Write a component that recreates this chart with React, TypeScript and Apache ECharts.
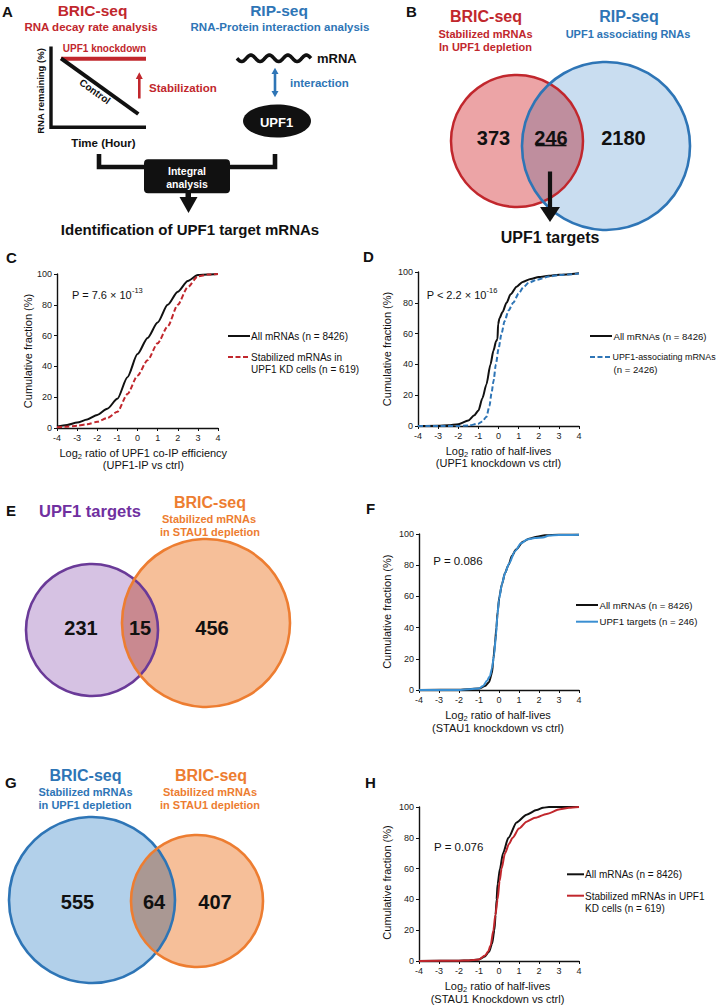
import React, { useEffect, useRef } from "react";
import * as echarts from "echarts";

const FONT = "'Liberation Sans', Arial, Helvetica, sans-serif";

// ---------------- axis ranges (all CDF panels) ----------------
const X_MIN = -4;
const X_MAX = 4;
const X_STEP = 1;
const Y_MIN = 0;
const Y_MAX = 100;
const Y_STEP = 20;

// ---------------- Panel C : UPF1 co-IP efficiency ----------------
const cAllX = [-4, -3.5, -3, -2.5, -2, -1.5, -1, -0.5, 0, 0.5, 1, 1.5, 2, 2.5, 3, 3.5, 4];
const cAllY = [1, 2, 3.5, 5.5, 8.5, 12.5, 19, 33, 48, 58.5, 68.5, 80, 88.5, 95.5, 99.3, 99.7, 100];
const cStabX = [-4, -3.5, -3, -2.5, -2, -1.5, -1, -0.5, 0, 0.5, 1, 1.5, 2, 2.5, 3, 3.5, 4];
const cStabY = [0.5, 0.8, 1.5, 2.5, 4, 6.5, 10.5, 22, 34, 44, 55, 66, 80, 91.5, 98.5, 99.6, 100];

// ---------------- Panel D : half-lives UPF1 KD ----------------
const dAllX = [-4, -3, -2.5, -2, -1.5, -1.2, -1, -0.8, -0.6, -0.4, -0.25, -0.12, -0.05, -0.02, 0.05, 0.2, 0.4, 0.6, 0.9, 1.2, 1.6, 2, 2.5, 3, 4];
const dAllY = [0, 0.2, 0.5, 1.2, 3.5, 7, 10, 18, 27, 40, 49, 55, 56.5, 66, 70, 74, 80, 85.5, 90.5, 93.5, 95.5, 96.8, 97.5, 98.2, 99.2];
const dAssocX = [-4, -2, -1.5, -1, -0.8, -0.6, -0.45, -0.35, -0.25, -0.13, 0, 0.15, 0.3, 0.5, 0.73, 1, 1.23, 1.5, 1.9, 2.5, 3, 4];
const dAssocY = [0, 0, 0.3, 1.5, 3, 6, 13, 21, 29, 40, 50, 60, 68, 75, 80, 86, 90, 93, 95, 97, 98, 99];

// ---------------- Panel F : half-lives STAU1 KD (UPF1 targets) ----------------
const fAllX = [-4, -2, -1.5, -1, -0.7, -0.5, -0.35, -0.28, -0.2, -0.13, -0.07, 0.02, 0.15, 0.3, 0.47, 0.65, 0.85, 1.2, 1.5, 1.9, 2.3, 3, 4];
const fAllY = [0, 0.2, 0.5, 1, 2.5, 5, 11, 20, 30, 40, 50, 60, 68, 75, 80, 86, 90, 95, 97, 98.2, 99.2, 99.5, 99.5];
const fTargX = [-4, -2, -1, -0.8, -0.6, -0.45, -0.35, -0.25, -0.15, -0.08, 0, 0.15, 0.3, 0.5, 0.8, 1.1, 1.4, 1.8, 2.2, 2.5, 3, 4];
const fTargY = [0, 0, 1, 2.5, 6, 9, 14, 22, 35, 48, 58, 68, 75, 81, 89, 94, 96.5, 97.5, 97.8, 99, 99.3, 99.5];

// ---------------- Panel H : half-lives STAU1 KD (stabilized in UPF1 KD) ----------------
const hAllX = [-4, -2, -1.5, -1, -0.7, -0.5, -0.35, -0.23, -0.17, -0.12, -0.07, 0.05, 0.2, 0.47, 0.88, 1.38, 1.88, 2.2, 2.5, 4];
const hAllY = [0, 0.2, 0.4, 1, 3, 6, 11, 20, 30, 40, 50, 60, 70, 80, 90, 95, 98, 99.5, 100, 100];
const hStabX = [-4, -2, -1.5, -1, -0.7, -0.55, -0.42, -0.28, -0.18, -0.07, 0.03, 0.13, 0.3, 0.5, 0.68, 1, 1.38, 1.8, 2.38, 3.05, 3.5, 4];
const hStabY = [0, 0.2, 0.4, 1, 3.5, 6, 10, 20, 30, 40, 52, 60, 70, 76, 80, 86, 90.5, 93, 95.5, 98.5, 99.5, 100];

// ---------------- Venn counts [left only, overlap, right only] ----------------
const vennB = [373, 246, 2180];
const vennE = [231, 15, 456];
const vennG = [555, 64, 407];

// ---------------- P values ----------------
const pC = { mant: "P = 7.6 × 10", exp: "-13" };
const pD = { mant: "P < 2.2 × 10", exp: "-16" };
const pF = "P = 0.086";
const pH = "P = 0.076";

// ---------------- legend labels ----------------
const legC = ["All mRNAs (n = 8426)", "Stabilized mRNAs in", "UPF1 KD cells (n = 619)"];
const legD = ["All mRNAs (n = 8426)", "UPF1-associating mRNAs", "(n = 2426)"];
const legF = ["All mRNAs (n = 8426)", "UPF1 targets (n = 246)"];
const legH = ["All mRNAs (n = 8426)", "Stabilized mRNAs in UPF1", "KD cells (n = 619)"];

// ---------------- colours ----------------
const RED = "#c1272d";
const BLUE = "#2e75b6";
const LBLUE = "#3a8fd2";
const PURPLE = "#7030a0";
const ORANGE = "#ed7d31";

const pairs = (xs: number[], ys: number[]) => xs.map((x, i) => [x, ys[i]]);

// ---------------- Venn lens shapes ----------------
function lensPath(c1x: number, c1y: number, r1: number, c2x: number, c2y: number, r2: number) {
  const dx = c2x - c1x;
  const dy = c2y - c1y;
  const d = Math.hypot(dx, dy);
  const a = (r1 * r1 - r2 * r2 + d * d) / (2 * d);
  const h = Math.sqrt(r1 * r1 - a * a);
  const ux = dx / d;
  const uy = dy / d;
  const mx = c1x + a * ux;
  const my = c1y + a * uy;
  const tx = mx + h * uy;
  const ty = my - h * ux;
  const bx = mx - h * uy;
  const by = my + h * ux;
  const l1 = a < 0 ? 1 : 0;
  const l2 = d - a < 0 ? 1 : 0;
  return `M${tx} ${ty} A${r1} ${r1} 0 ${l1} 1 ${bx} ${by} A${r2} ${r2} 0 ${l2} 1 ${tx} ${ty} Z`;
}

const VB = { c1: [517, 141, 66], c2: [606, 146, 84] };
const VE = { c1: [92, 630, 66], c2: [206, 623, 84] };
const VG = { c1: [92, 900, 83], c2: [197, 901, 66] };

let lensRegistered = false;
function registerLenses() {
  if (lensRegistered) return;
  lensRegistered = true;
  const reg = (name: string, v: any) =>
    echarts.graphic.registerShape(
      name,
      (echarts.graphic as any).extendPath(lensPath(v.c1[0], v.c1[1], v.c1[2], v.c2[0], v.c2[1], v.c2[2]), {})
    );
  reg("lensB", VB);
  reg("lensE", VE);
  reg("lensG", VG);
}

// ---------------- graphic helpers ----------------
function T(x: number, y: number, text: string, size: number, o: any = {}) {
  const align = o.align || "center";
  return {
    type: "text",
    x,
    y,
    rotation: o.rot || 0,
    silent: true,
    style: {
      text,
      fill: o.color || "#111",
      fontSize: size,
      fontWeight: o.weight || "normal",
      fontFamily: FONT,
      align,
      verticalAlign: "middle",
      textAlign: align,
      textVerticalAlign: "middle",
      rich: o.rich,
    },
  };
}
const B = (x: number, y: number, text: string, size: number, color = "#111", align = "center") =>
  T(x, y, text, size, { weight: "bold", color, align });

function L(x1: number, y1: number, x2: number, y2: number, color: string, width: number, dash?: number[]) {
  return {
    type: "line",
    silent: true,
    shape: { x1, y1, x2, y2 },
    style: { stroke: color, lineWidth: width, lineDash: dash || null, lineCap: "butt" },
  };
}
function PL(points: number[][], color: string, width: number) {
  return {
    type: "polyline",
    silent: true,
    shape: { points },
    style: { stroke: color, lineWidth: width, fill: null, lineJoin: "miter", lineCap: "butt" },
  };
}
function PG(points: number[][], fill: string) {
  return { type: "polygon", silent: true, shape: { points }, style: { fill } };
}
function C(v: number[], fill: string | null, stroke: string | null, lw = 0) {
  return {
    type: "circle",
    silent: true,
    shape: { cx: v[0], cy: v[1], r: v[2] },
    style: { fill: fill || "none", stroke: stroke || "none", lineWidth: lw },
  };
}
function xName(x: number, y: number, rest: string) {
  return T(x, y, `{m|Log}{s|2}{m|${rest}}`, 11, {
    rich: {
      m: { fontSize: 11, fontFamily: FONT, fill: "#111", lineHeight: 13, verticalAlign: "top" },
      s: { fontSize: 7.5, fontFamily: FONT, fill: "#111", lineHeight: 7, verticalAlign: "bottom" },
    },
  });
}
function pSup(x: number, y: number, p: { mant: string; exp: string }) {
  return T(x, y, `{m|${p.mant}}{s|${p.exp}}`, 11, {
    align: "left",
    rich: {
      m: { fontSize: 11, fontFamily: FONT, fill: "#111", lineHeight: 14, verticalAlign: "bottom" },
      s: { fontSize: 7.5, fontFamily: FONT, fill: "#111", lineHeight: 7, verticalAlign: "top" },
    },
  });
}
const yName = (x: number, y: number) => T(x, y, "Cumulative fraction (%)", 11, { rot: Math.PI / 2 });

function buildWave(x0: number, x1: number, yc: number, amp: number, periods: number) {
  const pts: number[][] = [];
  const n = 120;
  for (let i = 0; i <= n; i++) {
    const t = i / n;
    pts.push([x0 + (x1 - x0) * t, yc + amp * Math.sin(t * periods * Math.PI * 2)]);
  }
  return pts;
}

function buildGraphics() {
  const g: any[] = [];
  // ---------- panel letters ----------
  g.push(B(2, 11, "A", 15, "#111", "left"));
  g.push(B(406, 11, "B", 15, "#111", "left"));
  g.push(B(6, 257.5, "C", 15, "#111", "left"));
  g.push(B(363, 256, "D", 15, "#111", "left"));
  g.push(B(6, 510, "E", 15, "#111", "left"));
  g.push(B(366, 508.5, "F", 15, "#111", "left"));
  g.push(B(5, 782.5, "G", 15, "#111", "left"));
  g.push(B(365, 782.5, "H", 15, "#111", "left"));

  // ---------- Panel A ----------
  g.push(B(92.5, 10, "BRIC-seq", 15.5, RED));
  g.push(B(91, 26.5, "RNA decay rate analysis", 11.5, RED));
  g.push(B(279, 10, "RIP-seq", 15.5, BLUE));
  g.push(B(280, 26.5, "RNA-Protein interaction analysis", 11.5, BLUE));
  // mini plot axes
  g.push(PL([[51, 46.5], [51, 127.2], [146, 127.2]], "#111", 3.4));
  g.push(L(61, 58.7, 146, 58.7, RED, 4));
  g.push(L(61, 58.3, 138.3, 114, "#111", 4));
  g.push(B(104.5, 48.5, "UPF1 knockdown", 10, RED));
  g.push(T(95, 91.5, "Control", 10, { weight: "bold", rot: -Math.atan2(114 - 58.3, 138.3 - 61) }));
  g.push(L(139.3, 98.5, 139.3, 78, RED, 2.6));
  g.push(PG([[135.8, 79], [142.8, 79], [139.3, 72.3]], RED));
  g.push(B(149, 88, "Stabilization", 11.5, RED, "left"));
  g.push(B(103.5, 142.5, "Time (Hour)", 11.5));
  g.push(T(40, 91, "RNA remaining (%)", 9.5, { weight: "bold", rot: Math.PI / 2 }));
  // mRNA + UPF1
  g.push(PL(buildWave(237, 311, 58.3, 3.2, 4), "#111", 3.6));
  g.push(B(317, 58, "mRNA", 13, "#111", "left"));
  g.push(L(275, 72.5, 275, 92.5, BLUE, 2.6));
  g.push(PG([[271.5, 74], [278.5, 74], [275, 67.8]], BLUE));
  g.push(PG([[271.5, 91], [278.5, 91], [275, 97.2]], BLUE));
  g.push(B(290, 83, "interaction", 11.5, BLUE, "left"));
  g.push({ type: "ellipse", silent: true, shape: { cx: 277, cy: 121, rx: 34, ry: 16.5 }, style: { fill: "#111" } });
  g.push(B(276.5, 122, "UPF1", 13, "#fff"));
  // integral analysis
  g.push(PL([[99, 154], [99, 167], [275, 167], [275, 154]], "#111", 4.6));
  g.push({ type: "rect", silent: true, shape: { x: 144, y: 159.3, width: 86, height: 34, r: 4 }, style: { fill: "#111" } });
  g.push(B(187, 171, "Integral", 10.5, "#fff"));
  g.push(B(187, 184, "analysis", 10.5, "#fff"));
  g.push({ type: "rect", silent: true, shape: { x: 185.5, y: 192, width: 5.5, height: 6 }, style: { fill: "#111" } });
  g.push(PG([[179.5, 197], [197.5, 197], [188.5, 213]], "#111"));
  g.push(B(190, 229.5, "Identification of UPF1 target mRNAs", 15));

  // ---------- Panel B ----------
  g.push(B(486, 16, "BRIC-seq", 16, RED));
  g.push(B(485.5, 33.5, "Stabilized mRNAs", 11, RED));
  g.push(B(485.5, 46.5, "In UPF1 depletion", 11, RED));
  g.push(B(629, 16, "RIP-seq", 16, BLUE));
  g.push(B(628, 33.5, "UPF1 associating RNAs", 11, BLUE));
  g.push(C(VB.c1, "#eca4a6", null));
  g.push(C(VB.c2, "#c9ddf0", null));
  g.push({ type: "lensB", silent: true, x: 0, y: 0, style: { fill: "#bf8e9e" } });
  g.push(C(VB.c1, null, RED, 2.5));
  g.push(C(VB.c2, null, BLUE, 2.6));
  g.push(B(493.5, 137.5, String(vennB[0]), 20));
  g.push(B(551, 137.5, String(vennB[1]), 20));
  g.push(L(535.5, 145.5, 566.5, 145.5, "#111", 1.6));
  g.push(B(623.5, 137.5, String(vennB[2]), 20));
  g.push(L(550, 171.5, 550, 208, "#111", 4.2));
  g.push(PG([[540, 207], [560, 207], [550, 222]], "#111"));
  g.push(B(550, 237.5, "UPF1 targets", 16));

  // ---------- Panel C ----------
  g.push(yName(28, 351));
  g.push(xName(143.3, 453.5, " ratio of UPF1 co-IP efficiency"));
  g.push(T(143.3, 465, "(UPF1-IP vs ctrl)", 11));
  g.push(pSup(72, 293.3, pC));
  g.push(L(228, 336, 250, 336, "#111", 2));
  g.push(L(228, 357, 250, 357, RED, 2, [5, 2.5]));
  g.push(T(251, 336, legC[0], 10, { align: "left" }));
  g.push(T(251, 357.3, legC[1], 10, { align: "left" }));
  g.push(T(251, 369, legC[2], 10, { align: "left" }));

  // ---------- Panel D ----------
  g.push(yName(387, 349));
  g.push(xName(498.5, 451.7, " ratio of half-lives"));
  g.push(T(498.5, 463.3, "(UPF1 knockdown vs ctrl)", 11));
  g.push(pSup(426.7, 293.3, pD));
  g.push(L(590, 336, 612, 336, "#111", 2));
  g.push(L(590, 357, 612, 357, BLUE, 2, [5, 2.5]));
  g.push(T(613.5, 336, legD[0], 9.6, { align: "left" }));
  g.push(T(612.5, 357.3, legD[1], 8.9, { align: "left" }));
  g.push(T(613.5, 369, legD[2], 9.6, { align: "left" }));

  // ---------- Panel E ----------
  g.push(B(90, 511, "UPF1 targets", 16.5, PURPLE));
  g.push(B(210, 502, "BRIC-seq", 16, ORANGE));
  g.push(B(209, 518.5, "Stabilized mRNAs", 11, ORANGE));
  g.push(B(210, 532, "in STAU1 depletion", 11, ORANGE));
  g.push(C(VE.c1, "#d6c2e3", null));
  g.push(C(VE.c2, "#f6bf99", null));
  g.push({ type: "lensE", silent: true, x: 0, y: 0, style: { fill: "#c98990" } });
  g.push(C(VE.c1, null, "#6a3a98", 2.6));
  g.push(C(VE.c2, null, ORANGE, 2.6));
  g.push(B(81, 628.3, String(vennE[0]), 20));
  g.push(B(140, 628.3, String(vennE[1]), 20));
  g.push(B(212, 628.3, String(vennE[2]), 20));

  // ---------- Panel F ----------
  g.push(yName(387, 611.7));
  g.push(xName(498, 715.7, " ratio of half-lives"));
  g.push(T(498, 728.3, "(STAU1 knockdown vs ctrl)", 11));
  g.push(T(433.3, 560.7, pF, 11.5, { align: "left" }));
  g.push(L(576, 605, 598, 605, "#111", 2));
  g.push(L(576, 621.7, 598, 621.7, LBLUE, 2));
  g.push(T(599.5, 605, legF[0], 9.6, { align: "left" }));
  g.push(T(599.5, 621.7, legF[1], 9.6, { align: "left" }));

  // ---------- Panel G ----------
  g.push(B(85.5, 775, "BRIC-seq", 16, BLUE));
  g.push(B(85.5, 792, "Stabilized mRNAs", 11, BLUE));
  g.push(B(85, 805, "in UPF1 depletion", 11, BLUE));
  g.push(B(211, 775, "BRIC-seq", 16, ORANGE));
  g.push(B(210, 792, "Stabilized mRNAs", 11, ORANGE));
  g.push(B(210, 805, "in STAU1 depletion", 11, ORANGE));
  g.push(C(VG.c1, "#b2d0ea", null));
  g.push(C(VG.c2, "#f6bf99", null));
  g.push({ type: "lensG", silent: true, x: 0, y: 0, style: { fill: "#aa9893" } });
  g.push(C(VG.c1, null, BLUE, 2.6));
  g.push(C(VG.c2, null, ORANGE, 2.6));
  g.push(B(77.5, 902, String(vennG[0]), 20));
  g.push(B(154, 902, String(vennG[1]), 20));
  g.push(B(215, 902, String(vennG[2]), 20));

  // ---------- Panel H ----------
  g.push(yName(387, 882.5));
  g.push(xName(497.5, 987.3, " ratio of half-lives"));
  g.push(T(497.5, 998.5, "(STAU1 Knockdown vs ctrl)", 11));
  g.push(T(434, 846.7, pH, 11.5, { align: "left" }));
  g.push(L(567, 874.3, 584, 874.3, "#111", 2));
  g.push(L(567, 895.7, 584, 895.7, RED, 2));
  g.push(T(585, 874.3, legH[0], 10, { align: "left" }));
  g.push(T(585, 896, legH[1], 10, { align: "left" }));
  g.push(T(585, 908, legH[2], 10, { align: "left" }));

  return g;
}

const grids = [
  { left: 57, top: 274, width: 161, height: 154 }, // C
  { left: 418, top: 272, width: 161, height: 154 }, // D
  { left: 419, top: 534, width: 160, height: 156 }, // F
  { left: 419, top: 807, width: 160, height: 154 }, // H
];

function axisBase() {
  return {
    axisLine: { show: true, onZero: false, lineStyle: { color: "#111", width: 1.4 } },
    axisTick: { show: true, length: 3, lineStyle: { color: "#111", width: 1 } },
    splitLine: { show: false },
  };
}

function buildOption() {
  const xAxis = grids.map((_, i) => ({
    gridIndex: i,
    type: "value",
    min: X_MIN,
    max: X_MAX,
    interval: X_STEP,
    ...axisBase(),
    axisLabel: { fontSize: 9, color: "#222", fontFamily: FONT, margin: 5 },
  }));
  const yAxis = grids.map((_, i) => ({
    gridIndex: i,
    type: "value",
    min: Y_MIN,
    max: Y_MAX,
    interval: Y_STEP,
    ...axisBase(),
    axisLabel: { fontSize: 9, color: "#222", fontFamily: FONT, margin: 5 },
  }));
  const ser = (i: number, name: string, xs: number[], ys: number[], color: string, dashed = false, z = 2) => ({
    type: "line",
    name,
    xAxisIndex: i,
    yAxisIndex: i,
    data: pairs(xs, ys),
    showSymbol: false,
    symbol: "none",
    smooth: 0.25,
    smoothMonotone: "x",
    silent: true,
    z,
    lineStyle: { color, width: 2, type: dashed ? [5, 2.5] : "solid" },
  });
  return {
    animation: false,
    backgroundColor: "#ffffff",
    textStyle: { fontFamily: FONT },
    grid: grids.map((g) => ({ ...g, containLabel: false })),
    xAxis,
    yAxis,
    series: [
      ser(0, legC[0], cAllX, cAllY, "#111"),
      ser(0, legC[1], cStabX, cStabY, RED, true, 3),
      ser(1, legD[0], dAllX, dAllY, "#111"),
      ser(1, legD[1], dAssocX, dAssocY, BLUE, true, 3),
      ser(2, legF[0], fAllX, fAllY, "#111"),
      ser(2, legF[1], fTargX, fTargY, LBLUE, false, 3),
      ser(3, legH[0], hAllX, hAllY, "#111"),
      ser(3, legH[1], hStabX, hStabY, RED, false, 3),
    ],
    graphic: { elements: buildGraphics() },
  };
}

export default function App() {
  const ref = useRef<HTMLDivElement>(null);
  useEffect(() => {
    registerLenses();
    const chart = echarts.init(ref.current as HTMLDivElement, null, { renderer: "svg", width: 721, height: 1005 });
    chart.setOption(buildOption() as any);
    return () => chart.dispose();
  }, []);
  return (
    <div
      ref={ref}
      style={{ position: "absolute", left: 0, top: 0, width: 721, height: 1005, background: "#fff" }}
    />
  );
}
